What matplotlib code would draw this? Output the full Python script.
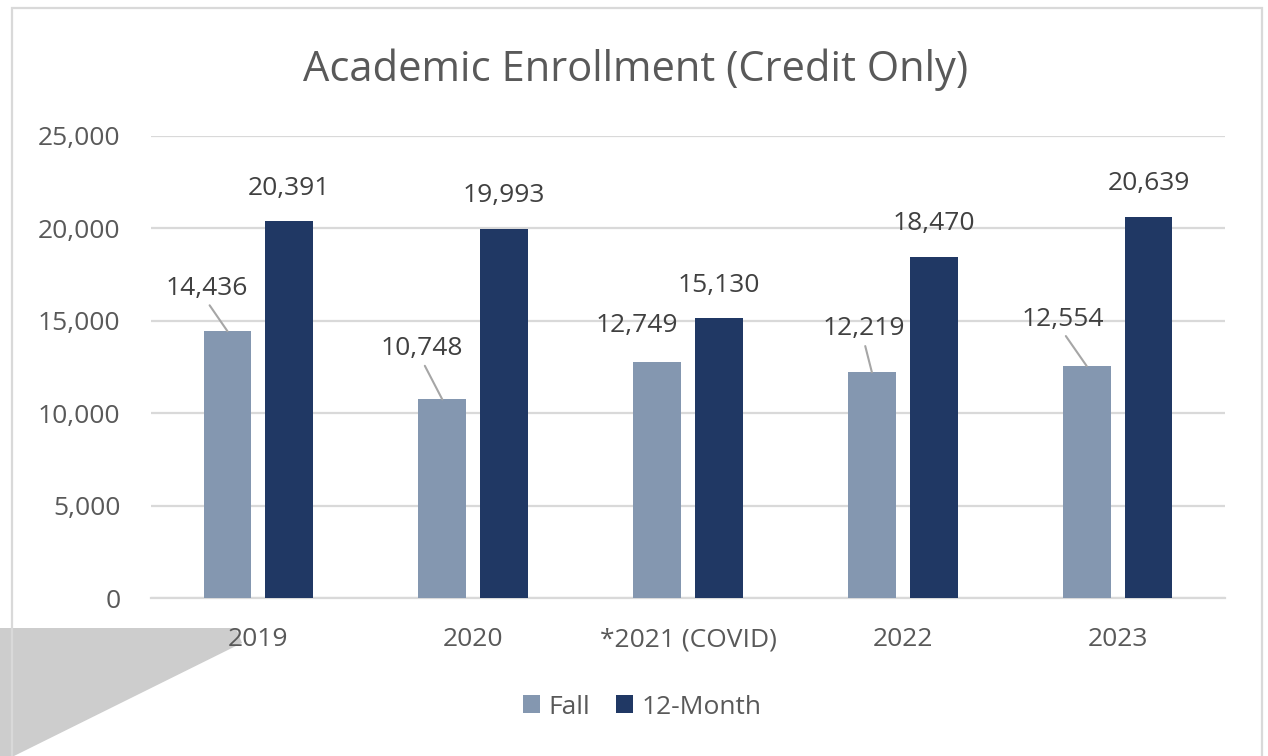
import numpy as np
import matplotlib
matplotlib.use("Agg")
import matplotlib.pyplot as plt
from matplotlib.patches import Polygon, Rectangle

plt.rcParams['font.family'] = ['Open Sans', 'DejaVu Sans']

years = ['2019', '2020', '*2021 (COVID)', '2022', '2023']
fall = [14436, 10748, 12749, 12219, 12554]
twelve_month = [20391, 19993, 15130, 18470, 20639]

# where Excel put the Fall labels (pixels from the bar top), and whether a leader line shows
fall_label_offsets = [(-21, 43), (-20, 51), (-20, 37), (-8, 44), (-24, 47)]
fall_leader = [True, True, False, True, True]

W, H = 1268, 756
fig = plt.figure(figsize=(W / 100, H / 100), dpi=100)
fig.patch.set_facecolor('white')

# grey shadow bottom-left and chart border
shadow = [(0, 628), (236, 628), (242, 643), (14, 756), (0, 756)]
fig.patches.append(Polygon([(x / W, 1 - y / H) for x, y in shadow], closed=True,
                           transform=fig.transFigure, facecolor='#CDCDCD',
                           edgecolor='none', zorder=-2))
fig.patches.append(Rectangle((12 / W, -0.05), (1262 - 12) / W, 1.05 - 8 / H,
                             transform=fig.transFigure, facecolor='none',
                             edgecolor='#D9D9D9', lw=1.6, zorder=-1))

ax = fig.add_axes([151 / W, (H - 598) / H, (1225 - 151) / W, (598 - 136) / H])
ax.set_facecolor('none')

x = np.arange(len(years))
bw = 0.223
off = 0.144
b1 = ax.bar(x - off, fall, bw, color='#8497B0', label='Fall', zorder=3)
b2 = ax.bar(x + off, twelve_month, bw, color='#203864', label='12-Month', zorder=3)

ax.set_xlim(-0.5, len(years) - 0.5)
ax.set_ylim(0, 25000)
ax.set_yticks(np.arange(0, 25001, 5000))
ax.set_yticklabels([f'{v:,}' for v in range(0, 25001, 5000)])
ax.set_xticks(x)
ax.set_xticklabels(years)
ax.grid(axis='y', color='#D9D9D9', lw=1.6, zorder=0)
for s in ['top', 'right', 'left']:
    ax.spines[s].set_visible(False)
ax.spines['bottom'].set_color('#D9D9D9')
ax.spines['bottom'].set_linewidth(1.6)
ax.tick_params(axis='both', length=0, labelsize=19, colors='#595959')
ax.tick_params(axis='x', pad=21)
ax.tick_params(axis='y', pad=22)

lab_color = '#404040'
for i, v in enumerate(twelve_month):
    ax.annotate(f'{v:,}', (x[i] + off, v), xytext=(0, 33), textcoords='offset pixels',
                ha='center', va='center', fontsize=19, color=lab_color)

for i, v in enumerate(fall):
    dx, dy = fall_label_offsets[i]
    props = None
    if fall_leader[i]:
        props = dict(arrowstyle='-', color='#A6A6A6', lw=1.5, relpos=(0.5, 0),
                     patchA=None, shrinkA=4, shrinkB=0)
    ax.annotate(f'{v:,}', (x[i] - off, v), xytext=(dx, dy), textcoords='offset pixels',
                ha='center', va='center', fontsize=19, color=lab_color,
                arrowprops=props)

fig.text(636 / W, 1 - 70 / H, 'Academic Enrollment (Credit Only)', ha='center',
         va='center', fontsize=30, color='#595959')

fig.legend(handles=[b1, b2], labels=['Fall', '12-Month'], loc='center',
           bbox_to_anchor=(642 / W, 1 - 707 / H), ncol=2, frameon=False,
           fontsize=19, labelcolor='#595959', handlelength=0.65, handleheight=0.65,
           handletextpad=0.3, columnspacing=1.0)

fig.savefig('out.png', dpi=100)
